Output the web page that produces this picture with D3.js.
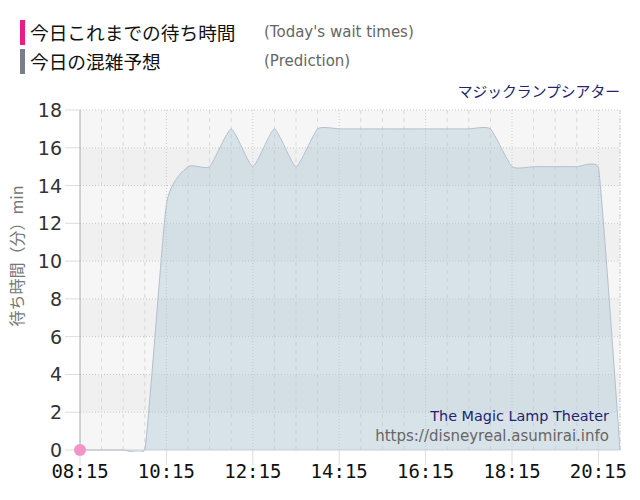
<!DOCTYPE html>
<html><head><meta charset="utf-8">
<script src="https://cdn.jsdelivr.net/npm/d3@7"></script>
<style>
html,body{margin:0;padding:0;background:#fff;}
svg{display:block;}
</style></head>
<body>
<svg id="chart" width="640" height="500"></svg>
<script>
// ---- data ----
const times = ["08:15","08:45","09:15","09:45","10:15","10:45","11:15","11:45","12:15","12:45","13:15","13:45","14:15","14:45","15:15","15:45","16:15","16:45","17:15","17:45","18:15","18:45","19:15","19:45","20:15","20:45"];
const prediction = [0,0,0,0,13,15,15,17,15,17,15,17,17,17,17,17,17,17,17,17,15,15,15,15,15,0];
const todayTimes = ["08:15"];
const todayValues = [0];
const xTickLabels = ["08:15","10:15","12:15","14:15","16:15","18:15","20:15"];
const yTicks = [0,2,4,6,8,10,12,14,16,18];
const legendJP = ["今日これまでの待ち時間","今日の混雑予想"];
const legendEN = ["(Today's wait times)","(Prediction)"];
const attractionJP = "マジックランプシアター";
const attractionEN = "The Magic Lamp Theater";
const siteURL = "https://disneyreal.asumirai.info";
const yTitle = "待ち時間（分）min";

// ---- custom smooth curve: cardinal (tension 0.5) with limited overshoot ----
function SmoothCurve(context) { this._context = context; }
SmoothCurve.prototype = {
  areaStart() { this._line = 0; },
  areaEnd() { this._line = NaN; },
  lineStart() { this._pts = []; },
  point(px, py) { this._pts.push([+px, +py]); },
  lineEnd() {
    const p = this._pts, c = this._context, n = p.length, k = 0.5 / 6, cap = 6;
    if (n) {
      if (this._line) c.lineTo(p[0][0], p[0][1]); else c.moveTo(p[0][0], p[0][1]);
      const tan = i => {
        const a = p[Math.max(0, i - 1)], b = p[Math.min(n - 1, i + 1)];
        return [(b[0] - a[0]) * k, (b[1] - a[1]) * k];
      };
      for (let i = 0; i < n - 1; i++) {
        const t0 = tan(i), t1 = tan(i + 1);
        const lo = Math.min(p[i][1], p[i + 1][1]) - cap, hi = Math.max(p[i][1], p[i + 1][1]) + cap;
        const c1y = Math.max(lo, Math.min(hi, p[i][1] + t0[1]));
        const c2y = Math.max(lo, Math.min(hi, p[i + 1][1] - t1[1]));
        c.bezierCurveTo(p[i][0] + t0[0], c1y, p[i + 1][0] - t1[0], c2y, p[i + 1][0], p[i + 1][1]);
      }
    }
    if (this._line) c.closePath();
    this._line = 1 - this._line;
  }
};
const smoothCurve = ctx => new SmoothCurve(ctx);

// ---- setup ----
const parse = d3.timeParse("%H:%M");
const svg = d3.select("#chart");
const L = 80, R = 620, T = 110, B = 450;
const x = d3.scaleTime().domain([parse("08:15"), parse("20:45")]).range([L, R]);
const y = d3.scaleLinear().domain([0, 18]).range([B, T]);

svg.append("defs").append("clipPath").attr("id", "plotclip")
  .append("rect").attr("x", L).attr("y", T - 10).attr("width", R - L + 1).attr("height", B - T + 12);

// legend
const legColors = ["#ee1a8c", "#787f8a"];
legendJP.forEach((t, i) => {
  const cy = 33 + i * 29;
  svg.append("rect").attr("x", 20).attr("y", cy - 13).attr("width", 5).attr("height", 25).attr("fill", legColors[i]);
  svg.append("text").attr("x", 30).attr("y", cy + 7).attr("font-family", "'Noto Sans CJK JP'").attr("font-size", 18.7)
    .attr("fill", "#111").text(t);
  svg.append("text").attr("x", 264).attr("y", cy + 4).attr("font-family", "'DejaVu Sans'").attr("font-size", 15)
    .attr("fill", "#666").text(legendEN[i]);
});

// attraction name
svg.append("text").attr("x", 620).attr("y", 97).attr("text-anchor", "end")
  .attr("font-family", "'Noto Sans CJK JP'").attr("font-size", 14.8).attr("fill", "#23236e").text(attractionJP);

// background bands
const g = svg.append("g");
for (let i = 0; i < yTicks.length - 1; i++) {
  const lo = yTicks[i], hi = yTicks[i + 1];
  g.append("rect").attr("x", L).attr("width", R - L).attr("y", y(hi)).attr("height", y(lo) - y(hi))
    .attr("fill", (i % 2 === 0) ? "#f6f6f6" : "#f0f0f0");
}

// vertical minor grid (every 30 min)
const majorSet = new Set(xTickLabels);
times.forEach(t => {
  if (majorSet.has(t) || t === "08:15") return;
  const xx = x(parse(t));
  g.append("line").attr("x1", xx).attr("x2", xx).attr("y1", T).attr("y2", B)
    .attr("stroke", "#d8d8d8").attr("stroke-dasharray", "4,4");
});
// major verticals
xTickLabels.slice(1).forEach(t => {
  const xx = x(parse(t));
  g.append("line").attr("x1", xx).attr("x2", xx).attr("y1", T).attr("y2", B)
    .attr("stroke", "#c6ccd6").attr("stroke-dasharray", "1,2");
});
// right edge
g.append("line").attr("x1", R).attr("x2", R).attr("y1", T).attr("y2", B)
  .attr("stroke", "#c6ccd6").attr("stroke-dasharray", "1,2");

// horizontal grid
yTicks.forEach(v => {
  g.append("line").attr("x1", L).attr("x2", R).attr("y1", y(v)).attr("y2", y(v))
    .attr("stroke", v === 0 ? "#d0d0d0" : "#c8c8c8").attr("stroke-dasharray", v === 0 ? null : "1,2");
  g.append("line").attr("x1", 65).attr("x2", L).attr("y1", y(v)).attr("y2", y(v)).attr("stroke", "#dcdcdc");
});

// area
const pts = times.map((t, i) => ({ t: parse(t), v: prediction[i] }));
const area = d3.area().curve(smoothCurve).x(d => x(d.t)).y0(y(0)).y1(d => y(d.v));
const line = d3.line().curve(smoothCurve).x(d => x(d.t)).y(d => y(d.v));
const pg = svg.append("g").attr("clip-path", "url(#plotclip)");
pg.append("path").datum(pts).attr("d", area).attr("fill", "rgba(174,197,214,0.42)");
pg.append("path").datum(pts).attr("d", line).attr("fill", "none").attr("stroke", "#b3c0cc").attr("stroke-width", 1);

// y axis line
svg.append("line").attr("x1", L).attr("x2", L).attr("y1", T).attr("y2", B).attr("stroke", "#aaaaaa");

// y labels
yTicks.forEach(v => {
  svg.append("text").attr("x", 62).attr("y", y(v) + 7).attr("text-anchor", "end")
    .attr("font-family", "'DejaVu Sans'").attr("font-size", 19).attr("fill", "#333").text(v);
});

// x ticks + labels
xTickLabels.forEach(t => {
  const xx = x(parse(t));
  svg.append("line").attr("x1", xx).attr("x2", xx).attr("y1", B).attr("y2", B + 15).attr("stroke", "#dcdcdc");
  svg.append("text").attr("x", xx).attr("y", 478).attr("text-anchor", "middle")
    .attr("font-family", "'DejaVu Sans Mono'").attr("font-size", 19).attr("fill", "#111").text(t);
});

// y title
svg.append("text").attr("transform", "translate(23,256) rotate(-90)").attr("text-anchor", "middle")
  .attr("font-family", "'Noto Sans CJK JP'").attr("font-size", 16).attr("fill", "#777").text(yTitle);

// today points
todayTimes.forEach((t, i) => {
  svg.append("circle").attr("cx", x(parse(t))).attr("cy", y(todayValues[i])).attr("r", 6)
    .attr("fill", "#f394c8");
});

// credits
svg.append("text").attr("x", 609).attr("y", 421).attr("text-anchor", "end")
  .attr("font-family", "'DejaVu Sans'").attr("font-size", 14.4).attr("fill", "#23236e").text(attractionEN);
svg.append("text").attr("x", 609).attr("y", 441).attr("text-anchor", "end")
  .attr("font-family", "'DejaVu Sans'").attr("font-size", 15).attr("fill", "#666").text(siteURL);
</script>
</body></html>
